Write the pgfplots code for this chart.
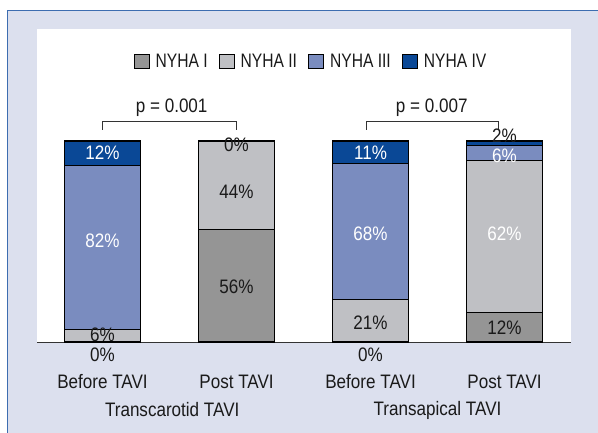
\documentclass[border=0pt]{standalone}
\usepackage{fontspec}
\setmainfont{Liberation Sans}[FakeStretch=0.875]
\newfontfamily\legfont{Liberation Sans}[FakeStretch=0.8]
\usepackage{pgfplots}
\pgfplotsset{compat=1.18}
\usepackage{pgfplotstable}
\definecolor{nyI}{HTML}{959595}
\definecolor{nyII}{HTML}{BFC0C4}
\definecolor{nyIII}{HTML}{7A8CBF}
\definecolor{nyIV}{HTML}{0A4896}
\definecolor{lav}{HTML}{DCE0EE}
\definecolor{bordblue}{HTML}{3D6DB0}
\definecolor{axgray}{HTML}{333333}
\definecolor{txt}{HTML}{1A1A1A}
\newcommand{\fs}{\fontsize{19.5bp}{22bp}\selectfont}
\pgfplotstableread{
x I II III IV
0 0 6 82 12
1 56 44 0 0
2 0 21 68 11
3 14.63 75.61 7.32 2.44
}\datatable
\begin{document}
\begin{tikzpicture}[font=\fs, text=txt]
\path[use as bounding box] (-37bp,-91bp) rectangle (561bp,342bp);
\fill[white] (-37bp,-91bp) rectangle (561bp,342bp);
\fill[lav] (-29bp,-91bp) rectangle (561bp,331bp);
\draw[bordblue, line width=1bp] (-29bp,-91bp) -- (-29bp,331bp) -- (561bp,331bp);
\fill[white] (0,0) rectangle (534bp,313bp);
\begin{axis}[
  at={(0,0)}, anchor=south west,
  scale only axis, width=534bp, height=313bp,
  xmin=-0.489, xmax=3.496, ymin=0, ymax=155.7,
  ybar stacked, bar width=0.567,
  axis x line*=bottom, axis y line=none,
  x axis line style={draw=axgray, line width=1bp, -},
  xtick={0,1,2,3},
  xticklabels={Before TAVI, Post TAVI, Before TAVI, Post TAVI},
  major tick length=0,
  xticklabel style={anchor=center, yshift=-40bp, font=\fs, text=txt},
  clip=false,
  legend columns=4,
  legend style={draw=none, fill=none, at={(0.513,0.895)}, anchor=center,
    font=\fs\legfont, text=txt,
    /tikz/every odd column/.append style={column sep=4bp},
    /tikz/every even column/.append style={column sep=9bp}},
  legend image code/.code={\draw[#1] (0bp,-7bp) rectangle (15bp,7bp);},
  every axis plot/.append style={draw=black, line width=1.1bp},
  after end axis/.code={
    \node[white] at (axis cs:0,94) {12\%};
    \node[white] at (axis cs:0,50.4) {82\%};
    \node at (axis cs:0,3.5) {6\%};
    \node at (axis cs:0,-6.5) {0\%};
    \node at (axis cs:1,98) {0\%};
    \node at (axis cs:1,74.6) {44\%};
    \node at (axis cs:1,27.5) {56\%};
    \node[white] at (axis cs:2,94) {11\%};
    \node[white] at (axis cs:2,54) {68\%};
    \node at (axis cs:2,9.5) {21\%};
    \node at (axis cs:2,-6.5) {0\%};
    \node at (axis cs:3,102.5) {2\%};
    \node[white] at (axis cs:3,92.7) {6\%};
    \node[white] at (axis cs:3,54) {62\%};
    \node at (axis cs:3,7) {12\%};
  },
]
\addplot[fill=nyI] table[x=x,y=I]{\datatable};
\addlegendentry{NYHA I}
\addplot[fill=nyII] table[x=x,y=II]{\datatable};
\addlegendentry{NYHA II}
\addplot[fill=nyIII] table[x=x,y=III]{\datatable};
\addlegendentry{NYHA III}
\addplot[fill=nyIV] table[x=x,y=IV]{\datatable};
\addlegendentry{NYHA IV}

\node at (axis cs:0.52,0) [yshift=-68bp] {Transcarotid TAVI};
\node at (axis cs:2.5,0) [yshift=-68bp] {Transapical TAVI};

\draw[axgray, line width=1bp] (axis cs:0,105.5) -- (axis cs:0,109.5) -- (axis cs:1,109.5) -- (axis cs:1,105.5);
\draw[axgray, line width=1bp] (axis cs:1.972,105.5) -- (axis cs:1.972,109.5) -- (axis cs:2.958,109.5) -- (axis cs:2.958,105.5);
\node at (axis cs:0.516,116.4) {p = 0.001};
\node at (axis cs:2.457,116.4) {p = 0.007};
\end{axis}
\end{tikzpicture}
\end{document}
